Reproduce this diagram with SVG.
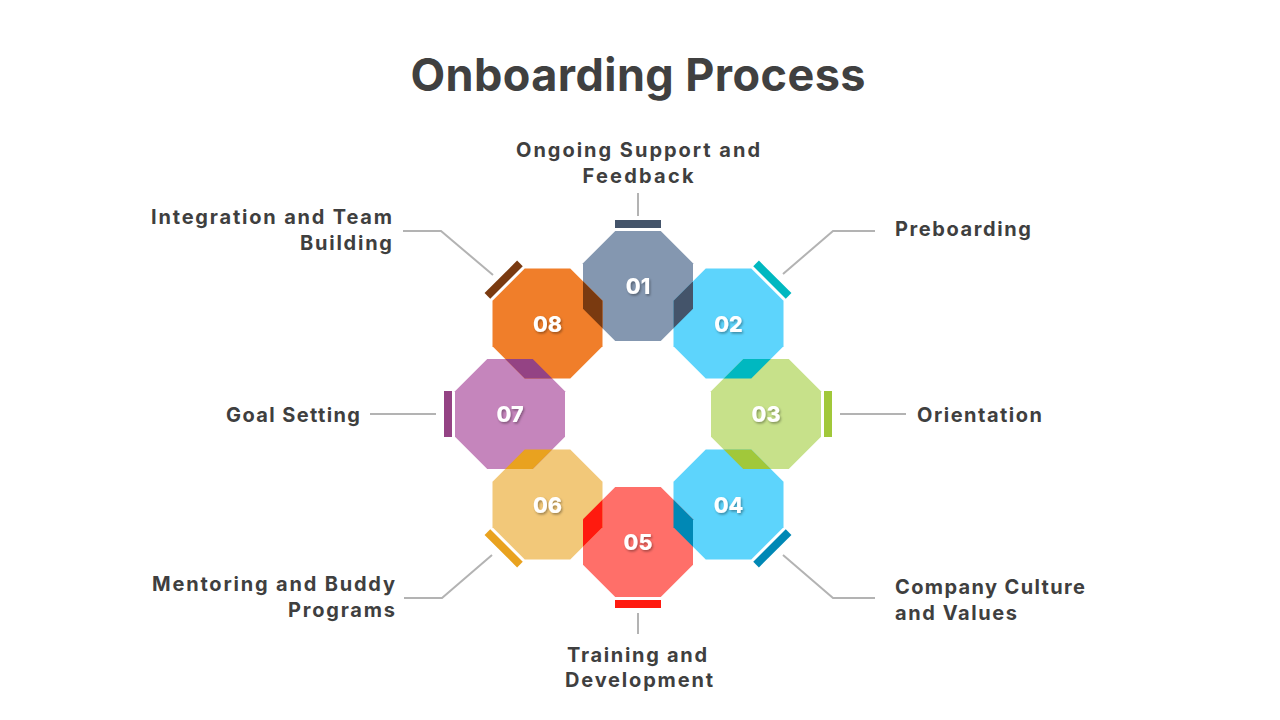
<svg xmlns="http://www.w3.org/2000/svg" xmlns:xlink="http://www.w3.org/1999/xlink" width="1280" height="720" viewBox="0 0 1280 720">
  <style>
    .title { font-family: Inter, "Noto Sans", "Liberation Sans", sans-serif; font-weight: 700; font-size: 45px; fill: #404040; }
    .label { font-family: Inter, "Noto Sans", "Liberation Sans", sans-serif; font-weight: 700; font-size: 20px; fill: #3f3f3f; }
    .num { font-family: Inter, "Noto Sans", "Liberation Sans", sans-serif; font-weight: 800; font-size: 21.5px; fill: #ffffff; text-anchor: middle; filter: url(#shadow); }
    .conn { fill: none; stroke: #b3b3b3; stroke-width: 2; }
  </style>
  <defs>
    <polygon id="oct" points="-22.78,-55 22.78,-55 55,-22.78 55,22.78 22.78,55 -22.78,55 -55,22.78 -55,-22.78"/>
    <rect id="bar" x="-23" y="-66" width="46" height="8"/>
    <filter id="shadow" x="-20%" y="-20%" width="140%" height="150%">
      <feDropShadow dx="1.2" dy="1.6" stdDeviation="0.8" flood-color="#000000" flood-opacity="0.35"/>
    </filter>
    <clipPath id="k1"><use xlink:href="#oct" href="#oct" transform="translate(638,286)"/></clipPath>
    <clipPath id="k2"><use xlink:href="#oct" href="#oct" transform="translate(728.5,323.5)"/></clipPath>
    <clipPath id="k3"><use xlink:href="#oct" href="#oct" transform="translate(766,414)"/></clipPath>
    <clipPath id="k4"><use xlink:href="#oct" href="#oct" transform="translate(728.5,504.5)"/></clipPath>
    <clipPath id="k5"><use xlink:href="#oct" href="#oct" transform="translate(638,542)"/></clipPath>
    <clipPath id="k6"><use xlink:href="#oct" href="#oct" transform="translate(547.5,504.5)"/></clipPath>
    <clipPath id="k7"><use xlink:href="#oct" href="#oct" transform="translate(510,414)"/></clipPath>
    <clipPath id="k8"><use xlink:href="#oct" href="#oct" transform="translate(547.5,323.5)"/></clipPath>
  </defs>

  <rect width="1280" height="720" fill="#ffffff"/>

  <text class="title" x="638" y="91" text-anchor="middle" textLength="455">Onboarding Process</text>

  <g id="connectors">
    <path class="conn" d="M638,193 V216"/>
    <path class="conn" d="M875,231 H833 L783,274"/>
    <path class="conn" d="M906,414 H840"/>
    <path class="conn" d="M875,598 H833 L783,555"/>
    <path class="conn" d="M638,613 V634"/>
    <path class="conn" d="M404,598 H442 L492,555"/>
    <path class="conn" d="M370,414 H436"/>
    <path class="conn" d="M403,231 H441 L493,275"/>
  </g>

  <g id="node-01">
    <use href="#oct" transform="translate(638,286)" fill="#8497b0"/>
    <use href="#bar" transform="translate(638,286)" fill="#44546a"/>
    <text class="label" x="638" y="157" text-anchor="middle" textLength="244">Ongoing Support and</text>
    <text class="label" x="638" y="183" text-anchor="middle" textLength="111">Feedback</text>
  </g>
  <g id="node-02">
    <use href="#oct" transform="translate(728.5,323.5)" fill="#5dd4fc"/>
    <use href="#bar" transform="translate(728.5,323.5) rotate(45)" fill="#00b8c0"/>
    <text class="label" x="895" y="236" textLength="136">Preboarding</text>
  </g>
  <g id="node-03">
    <use href="#oct" transform="translate(766,414)" fill="#c7e18a"/>
    <use href="#bar" transform="translate(766,414) rotate(90)" fill="#a1c83a"/>
    <text class="label" x="917" y="421.5" textLength="125">Orientation</text>
  </g>
  <g id="node-04">
    <use href="#oct" transform="translate(728.5,504.5)" fill="#5dd4fc"/>
    <use href="#bar" transform="translate(728.5,504.5) rotate(135)" fill="#0088b5"/>
    <text class="label" x="895" y="594" textLength="190">Company Culture</text>
    <text class="label" x="895" y="620" textLength="122">and Values</text>
  </g>
  <g id="node-05">
    <use href="#oct" transform="translate(638,542)" fill="#ff6f69"/>
    <use href="#bar" transform="translate(638,542) rotate(180)" fill="#ff1a0f"/>
    <text class="label" x="637" y="662" text-anchor="middle" textLength="140">Training and</text>
    <text class="label" x="639" y="687" text-anchor="middle" textLength="148">Development</text>
  </g>
  <g id="node-06">
    <use href="#oct" transform="translate(547.5,504.5)" fill="#f2c879"/>
    <use href="#bar" transform="translate(547.5,504.5) rotate(225)" fill="#e9a21f"/>
    <text class="label" x="395" y="591" text-anchor="end" textLength="243">Mentoring and Buddy</text>
    <text class="label" x="395" y="617" text-anchor="end" textLength="107">Programs</text>
  </g>
  <g id="node-07">
    <use href="#oct" transform="translate(510,414)" fill="#c585bc"/>
    <use href="#bar" transform="translate(510,414) rotate(270)" fill="#944384"/>
    <text class="label" x="360" y="421.5" text-anchor="end" textLength="134">Goal Setting</text>
  </g>
  <g id="node-08">
    <use href="#oct" transform="translate(547.5,323.5)" fill="#f07e2a"/>
    <use href="#bar" transform="translate(547.5,323.5) rotate(315)" fill="#7a3a10"/>
    <text class="label" x="392" y="224" text-anchor="end" textLength="241">Integration and Team</text>
    <text class="label" x="392" y="250" text-anchor="end" textLength="92">Building</text>
  </g>

  <g id="overlaps">
    <g clip-path="url(#k1)"><use href="#oct" transform="translate(728.5,323.5)" fill="#44546a"/></g>
    <g clip-path="url(#k2)"><use href="#oct" transform="translate(766,414)" fill="#00b8c0"/></g>
    <g clip-path="url(#k3)"><use href="#oct" transform="translate(728.5,504.5)" fill="#a1c83a"/></g>
    <g clip-path="url(#k4)"><use href="#oct" transform="translate(638,542)" fill="#0088b5"/></g>
    <g clip-path="url(#k5)"><use href="#oct" transform="translate(547.5,504.5)" fill="#ff1a0f"/></g>
    <g clip-path="url(#k6)"><use href="#oct" transform="translate(510,414)" fill="#e9a21f"/></g>
    <g clip-path="url(#k7)"><use href="#oct" transform="translate(547.5,323.5)" fill="#944384"/></g>
    <g clip-path="url(#k8)"><use href="#oct" transform="translate(638,286)" fill="#7a3a10"/></g>
  </g>

  <g id="numbers">
    <text class="num" x="638" y="294">01</text>
    <text class="num" x="728.5" y="331.5">02</text>
    <text class="num" x="766" y="422">03</text>
    <text class="num" x="728.5" y="512.5">04</text>
    <text class="num" x="638" y="550">05</text>
    <text class="num" x="547.5" y="512.5">06</text>
    <text class="num" x="510" y="422">07</text>
    <text class="num" x="547.5" y="331.5">08</text>
  </g>
</svg>
